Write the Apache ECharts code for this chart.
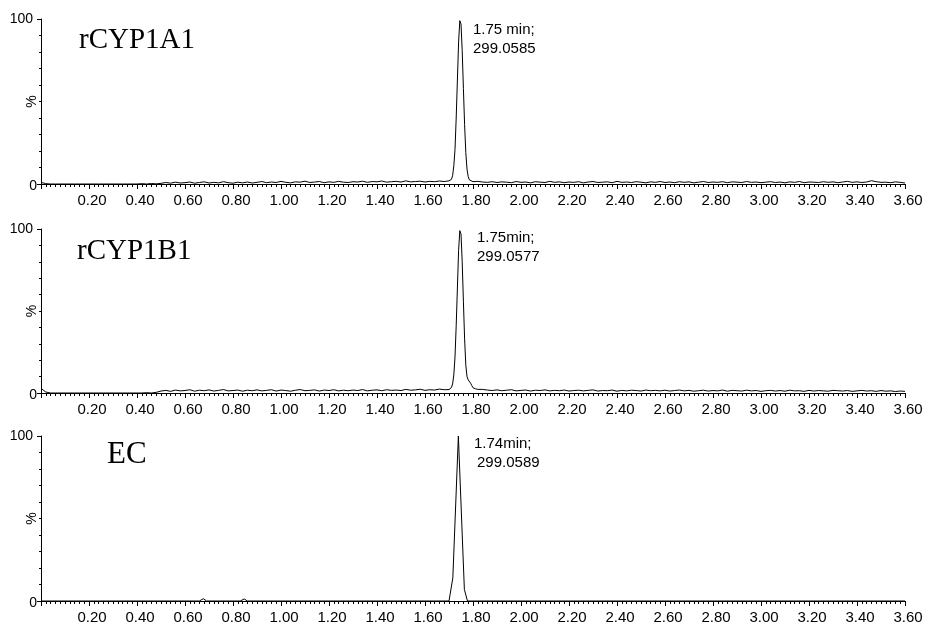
<!DOCTYPE html>
<html>
<head>
<meta charset="utf-8">
<script src="https://cdn.jsdelivr.net/npm/echarts@6/dist/echarts.min.js"></script>
<style>html,body{margin:0;padding:0;background:#fff}#c{width:926px;height:623px}</style>
</head>
<body>
<div id="c"></div>
<script>
// ---------------- data (retention time in min, intensity in %) ----------------
const sampleNames = ['rCYP1A1', 'rCYP1B1', 'EC'];
const peakLabels = [['1.75 min;', '299.0585'], ['1.75min;', '299.0577'], ['1.74min;', '299.0589']];
const xTickStep = 0.2;
const sampleStep = 0.02;

// rCYP1A1 trace
const a1Lead = [1.0,0.2,0,0,0,0,0,0,0,0,0,0,0,0,0,0,0,0,0,0,0,0.2,0,0.3,0.1];            // 0.00-0.48
const a1Pre = [0.4,0.9,0.5,1.1,0.6,0.8,1.2,0.5,0.9,1.3,0.6,1.0,0.7,1.4,0.8,0.5,1.1,0.7,1.2,0.6,
               1.0,1.5,0.8,1.2,0.9,1.6,1.0,0.7,1.3,1.1,1.7,0.9,1.2,1.5,0.8,1.3,1.0,1.6,1.1,0.9,
               1.4,1.2,1.7,1.0,1.5,1.3,1.8,1.1,1.4,1.6,1.2,1.9,1.3,1.5,1.7,1.2,1.6,1.4,1.8,1.5]; // 0.50-1.68
const a1Peak = [[1.700,1.9],[1.705,2.2],[1.710,2.8],[1.715,5],[1.720,11],[1.725,21],[1.730,40],[1.735,63],
                [1.740,86],[1.745,99],[1.747,100],[1.750,97],[1.755,81],[1.760,58],[1.765,36],[1.770,19],
                [1.775,9],[1.780,4.5],[1.785,2.5],[1.790,1.8]];
const a1Tail = [1.4,
                1.6,1.2,1.0,1.4,0.9,1.3,1.1,0.8,1.5,1.0,1.2,0.7,1.4,1.1,0.9,1.6,1.0,1.3,0.8,1.2,
                1.0,1.4,0.7,1.2,1.5,0.9,1.1,1.3,0.8,1.6,1.0,1.2,0.9,1.4,1.1,0.7,1.3,1.0,1.5,0.9,
                1.2,0.8,1.4,1.0,1.3,0.7,1.1,1.5,0.9,1.2,1.0,1.4,0.8,1.3,1.1,0.9,1.5,1.0,1.2,0.8,
                1.1,1.4,0.9,1.2,0.7,1.3,1.0,1.5,0.8,1.2,1.1,0.9,1.4,1.0,1.3,0.8,1.2,1.6,1.0,1.3,
                0.9,1.2,2.0,1.4,1.0,1.1,0.8,1.3,1.0,0.6];                                     // 1.80-3.60

// rCYP1B1 trace
const b1Lead = [2.8,0.6,0,0,0,0,0,0,0,0,0,0,0,0,0,0,0,0,0,0,0,0,0.2,0,0.4];              // 0.00-0.48
const b1Pre = [1.2,1.6,1.0,1.8,1.3,1.5,2.0,1.1,1.7,1.4,1.9,1.2,1.6,2.1,1.3,1.5,1.8,1.1,1.7,1.4,
               1.9,1.3,1.6,2.0,1.2,1.8,1.5,1.1,1.7,2.1,1.4,1.6,1.9,1.2,1.8,1.5,2.0,1.3,1.7,1.4,
               1.8,1.5,2.1,1.3,1.7,1.9,1.4,2.0,1.6,1.8,1.5,2.2,1.7,1.9,2.3,1.6,2.0,1.8,2.4,2.0]; // 0.50-1.68
const b1Peak = [[1.700,2.1],[1.705,2.4],[1.710,3.3],[1.715,5.5],[1.720,11],[1.725,22],[1.730,41],[1.735,64],
                [1.740,87],[1.745,99],[1.747,100],[1.750,97],[1.755,80],[1.760,56],[1.765,33],[1.770,17],
                [1.775,10],[1.780,8],[1.785,7.5],[1.790,6],[1.795,4.5],[1.800,3.2],[1.810,2.6],[1.820,2.2]];
const b1Tail = [2.2,1.8,1.5,1.9,1.4,1.7,2.0,1.3,1.6,1.8,1.2,1.7,1.5,1.9,1.3,1.6,1.4,1.8,1.2,1.5,
                1.7,1.3,1.6,1.9,1.2,1.5,1.4,1.8,1.1,1.6,1.3,1.7,1.5,1.2,1.8,1.4,1.6,1.3,1.7,1.2,
                1.5,1.8,1.3,1.6,1.1,1.4,1.7,1.2,1.5,1.3,1.8,1.1,1.6,1.4,1.2,1.7,1.3,1.5,1.0,1.4,
                1.6,1.2,1.5,1.1,1.7,1.3,1.4,1.0,1.6,1.2,1.5,1.3,1.1,1.6,1.4,1.2,1.5,1.0,1.3,1.6,
                1.2,1.4,1.0,1.5,1.1,1.3,0.9,1.2,1.0];                                         // 1.84-3.60

// EC trace (flat baseline, two tiny blips, coarse peak)
const ecPoints = [[0,0],[0.66,0],[0.676,1.4],[0.69,0],[0.83,0],[0.847,1.2],[0.86,0],
                  [1.700,0],[1.716,14],[1.739,100],[1.764,7],[1.777,0],[3.6,0]];

// ---------------- build series data ----------------
function seg(start, values) {
  return values.map((v, i) => [+(start + i * sampleStep).toFixed(3), v]);
}
const traces = [
  [].concat(seg(0, a1Lead), seg(0.5, a1Pre), a1Peak, seg(1.8, a1Tail)),
  [].concat(seg(0, b1Lead), seg(0.5, b1Pre), b1Peak, seg(1.84, b1Tail)),
  ecPoints
];

// ---------------- layout ----------------
const FONT = 'Liberation Sans';
const gridTops = [19, 229, 436];
const gridHeights = [165, 164, 165];
const titlePos = [[79, 26], [77, 237], [107, 439]];
const titleSizes = [29, 29, 31];
const annoPos = [[473, 20], [477, 228], [474, 434]];

const titles = [];
sampleNames.forEach((n, i) => {
  titles.push({
    text: n, left: titlePos[i][0], top: titlePos[i][1], padding: 0,
    textStyle: { fontFamily: 'Liberation Serif', fontWeight: 'normal', fontSize: titleSizes[i], color: '#000' }
  });
});
peakLabels.forEach((lines, i) => {
  titles.push({
    text: lines[0], left: annoPos[i][0], top: annoPos[i][1], padding: 0,
    textStyle: { fontFamily: FONT, fontWeight: 'normal', fontSize: 15, color: '#000', lineHeight: 19 }
  });
  titles.push({
    text: lines[1], left: annoPos[i][0] + (i === 2 ? 3 : 0), top: annoPos[i][1] + 19, padding: 0,
    textStyle: { fontFamily: FONT, fontWeight: 'normal', fontSize: 15, color: '#000', lineHeight: 19 }
  });
});

const option = {
  animation: false,
  backgroundColor: '#fff',
  title: titles,
  grid: gridTops.map((t, i) => ({
    left: 41, right: 21, top: t, height: gridHeights[i],
    containLabel: false, outerBoundsMode: 'none'
  })),
  xAxis: [0, 1, 2].map(i => ({
    type: 'value', gridIndex: i, min: 0, max: 3.6, interval: xTickStep,
    axisLine: { show: true, onZero: false, lineStyle: { color: '#000', width: 1 } },
    axisTick: { show: true, length: 5, lineStyle: { color: '#000', width: 1 } },
    minorTick: { show: true, splitNumber: 10, length: 3, lineStyle: { color: '#000', width: 1 } },
    splitLine: { show: false },
    axisLabel: {
      showMinLabel: false, showMaxLabel: true, color: '#000', fontFamily: FONT, fontSize: 15,
      margin: 9, padding: [0, 0, 0, 6], formatter: v => v.toFixed(2)
    }
  })),
  yAxis: [0, 1, 2].map(i => ({
    type: 'value', gridIndex: i, min: 0, max: 100, interval: 100,
    name: '%', nameLocation: 'middle', nameGap: 2, nameRotate: 90, nameMoveOverlap: false,
    nameTextStyle: { fontFamily: FONT, fontSize: 14, color: '#000' },
    axisLine: { show: true, onZero: false, lineStyle: { color: '#000', width: 1 } },
    axisTick: { show: true, length: 4, lineStyle: { color: '#000', width: 1 } },
    minorTick: { show: true, splitNumber: 10, length: 2, lineStyle: { color: '#000', width: 1 } },
    splitLine: { show: false },
    axisLabel: {
      margin: 4, color: '#000', fontFamily: FONT, fontSize: 14,
      formatter: v => (v === 100 ? '{a|100}' : '{b|0}'),
      rich: {
        a: { fontFamily: FONT, fontSize: 14, color: '#000', padding: [0, 4, 0, 0] },
        b: { fontFamily: FONT, fontSize: 14, color: '#000', padding: [5, 0, 0, 0] }
      }
    }
  })),
  series: traces.map((d, i) => ({
    type: 'line', xAxisIndex: i, yAxisIndex: i, data: d,
    showSymbol: false, symbol: 'none', smooth: false, clip: false, silent: true,
    lineStyle: { color: '#000', width: 1 }
  }))
};

const chart = echarts.init(document.getElementById('c'), null, { renderer: 'canvas' });
chart.setOption(option);
</script>
</body>
</html>
